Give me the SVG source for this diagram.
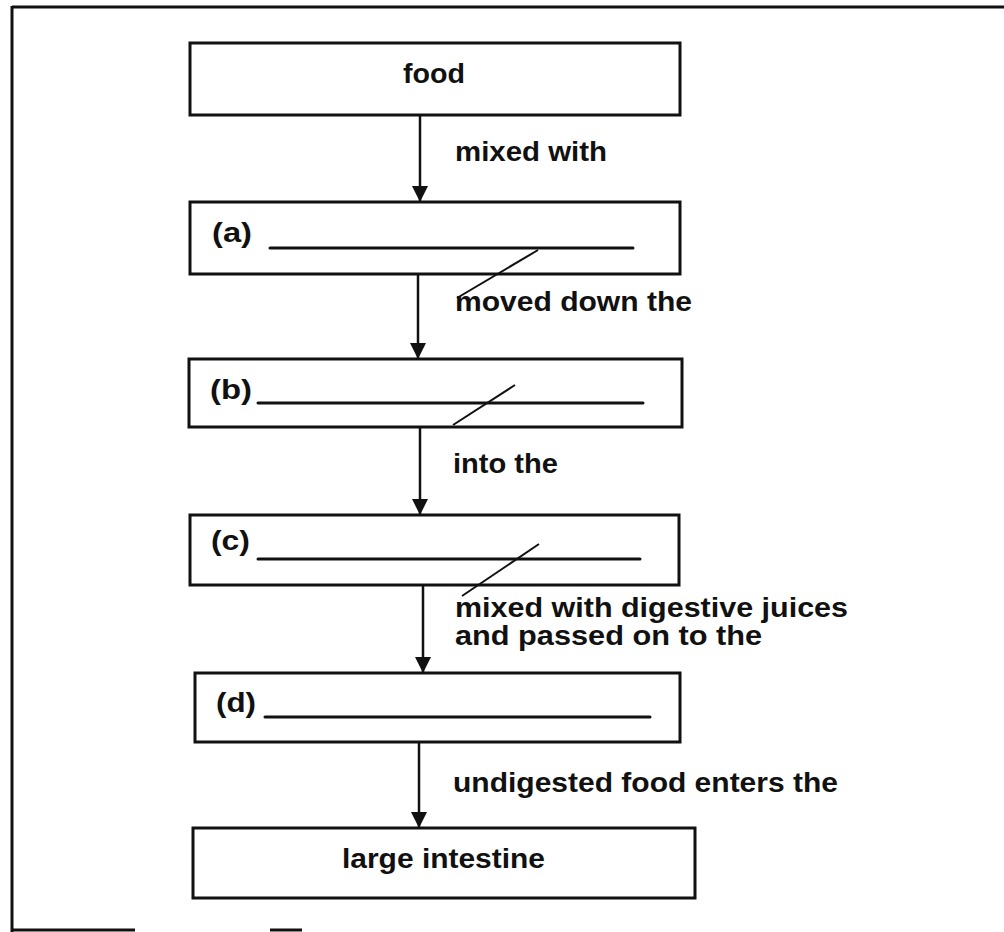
<svg xmlns="http://www.w3.org/2000/svg" width="1004" height="932" viewBox="0 0 1004 932">
  <defs>
    <marker id="arrow" markerUnits="userSpaceOnUse" markerWidth="16" markerHeight="16" viewBox="0 0 16 16" refX="16" refY="8" orient="auto">
      <path d="M0,0 L16,8 L0,16 Z" fill="#111"/>
    </marker>
  </defs>
  <style>
    .box { fill: #fff; stroke: #111; stroke-width: 3; }
    .t { font-family: "Liberation Sans", Arial, sans-serif; font-weight: bold; font-size: 28px; fill: #111; }
    .blank { stroke: #111; stroke-width: 3; stroke-linecap: round; }
    .slash { stroke: #111; stroke-width: 2; }
    .conn { stroke: #111; stroke-width: 2.5; fill: none; }
    .frame { stroke: #111; stroke-width: 3; fill: none; }
  </style>
  <rect width="1004" height="932" fill="#fff"/>
  <g id="frame">
    <line class="frame" x1="12" y1="7" x2="1004" y2="7"/>
    <line class="frame" x1="12" y1="6" x2="12" y2="932"/>
    <line class="frame" x1="12" y1="930" x2="135" y2="930"/>
    <line class="frame" x1="270" y1="930" x2="302" y2="930"/>
  </g>
  <g id="connectors">
    <line class="conn" x1="420" y1="115" x2="420" y2="202" marker-end="url(#arrow)"/>
    <line class="conn" x1="418" y1="274" x2="418" y2="359" marker-end="url(#arrow)"/>
    <line class="conn" x1="420" y1="427" x2="420" y2="515" marker-end="url(#arrow)"/>
    <line class="conn" x1="423" y1="585" x2="423" y2="673" marker-end="url(#arrow)"/>
    <line class="conn" x1="419" y1="742" x2="419" y2="828" marker-end="url(#arrow)"/>
    <text class="t" x="455" y="161" textLength="152" lengthAdjust="spacingAndGlyphs">mixed with</text>
    <text class="t" x="455" y="311" textLength="237" lengthAdjust="spacingAndGlyphs">moved down the</text>
    <text class="t" x="453" y="473" textLength="105" lengthAdjust="spacingAndGlyphs">into the</text>
    <text class="t" x="455" y="617" textLength="393" lengthAdjust="spacingAndGlyphs">mixed with digestive juices</text>
    <text class="t" x="455" y="645" textLength="307" lengthAdjust="spacingAndGlyphs">and passed on to the</text>
    <text class="t" x="453" y="792" textLength="385" lengthAdjust="spacingAndGlyphs">undigested food enters the</text>
  </g>
  <g id="node-food">
    <rect class="box" x="190" y="43" width="490" height="72"/>
    <text class="t" x="434" y="83" text-anchor="middle" textLength="62" lengthAdjust="spacingAndGlyphs">food</text>
  </g>
  <g id="node-a">
    <rect class="box" x="190" y="202" width="490" height="72"/>
    <text class="t" x="212" y="242" textLength="40" lengthAdjust="spacingAndGlyphs">(a)</text>
    <line class="blank" x1="270" y1="248" x2="633" y2="248"/>
    <line class="slash" x1="538" y1="250" x2="457" y2="298"/>
  </g>
  <g id="node-b">
    <rect class="box" x="189" y="359" width="493" height="68"/>
    <text class="t" x="210" y="399" textLength="42" lengthAdjust="spacingAndGlyphs">(b)</text>
    <line class="blank" x1="258" y1="403" x2="643" y2="403"/>
    <line class="slash" x1="515" y1="385" x2="453" y2="425"/>
  </g>
  <g id="node-c">
    <rect class="box" x="190" y="515" width="489" height="70"/>
    <text class="t" x="211" y="550" textLength="39" lengthAdjust="spacingAndGlyphs">(c)</text>
    <line class="blank" x1="258" y1="559" x2="640" y2="559"/>
    <line class="slash" x1="539" y1="544" x2="462" y2="596"/>
  </g>
  <g id="node-d">
    <rect class="box" x="195" y="673" width="485" height="69"/>
    <text class="t" x="216" y="712" textLength="40" lengthAdjust="spacingAndGlyphs">(d)</text>
    <line class="blank" x1="265" y1="717" x2="650" y2="717"/>
  </g>
  <g id="node-large-intestine">
    <rect class="box" x="193" y="828" width="502" height="70"/>
    <text class="t" x="443.5" y="868" text-anchor="middle" textLength="203" lengthAdjust="spacingAndGlyphs">large intestine</text>
  </g>
</svg>
